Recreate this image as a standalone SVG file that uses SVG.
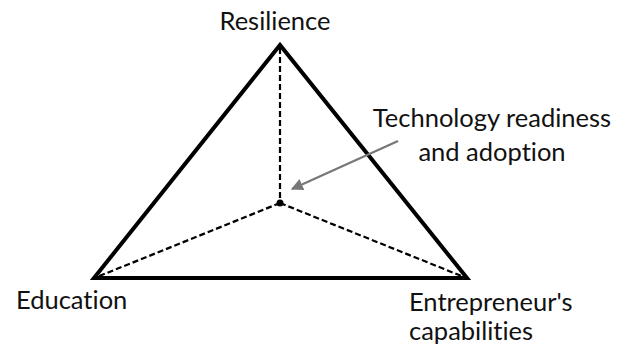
<svg xmlns="http://www.w3.org/2000/svg" width="625" height="352" viewBox="0 0 625 352">
  <style>
    .lbl { font-family: Lato, "Open Sans", "Liberation Sans", sans-serif; font-size: 25.5px; fill: #111; font-variant-ligatures: none; }
    .edge { stroke: #000; stroke-width: 4; fill: none; stroke-linejoin: miter; }
    .dash { stroke: #000; stroke-width: 2.2; stroke-dasharray: 6 3; fill: none; }
  </style>
  <defs>
    <marker id="arrowHead" viewBox="0 0 10 10" refX="9" refY="5" markerWidth="5.5" markerHeight="5.5" orient="auto" markerUnits="strokeWidth">
      <path d="M0,0 L10,5 L0,10 z" fill="#777"/>
    </marker>
  </defs>
  <rect width="625" height="352" fill="#fff"/>

  <g id="connectors">
    <polygon class="edge" points="280,45 94,278 467,278"/>
    <line class="dash" x1="280" y1="48" x2="280" y2="203"/>
    <line class="dash" x1="280" y1="203" x2="97" y2="277"/>
    <line class="dash" x1="280" y1="203" x2="464" y2="277"/>
    <line x1="398" y1="141" x2="292" y2="189" stroke="#777" stroke-width="2.2" marker-end="url(#arrowHead)"/>
  </g>

  <g id="center">
    <circle cx="280" cy="203" r="3.5" fill="#000"/>
  </g>

  <g id="resilience">
    <text class="lbl" x="275" y="30" text-anchor="middle">Resilience</text>
  </g>
  <g id="technology">
    <text class="lbl" x="492" y="127" text-anchor="middle">Technology readiness</text>
    <text class="lbl" x="492" y="161" text-anchor="middle">and adoption</text>
  </g>
  <g id="education">
    <text class="lbl" x="16" y="309">Education</text>
  </g>
  <g id="entrepreneur">
    <text class="lbl" x="409" y="311">Entrepreneur's</text>
    <text class="lbl" x="409" y="340">capabilities</text>
  </g>
</svg>
